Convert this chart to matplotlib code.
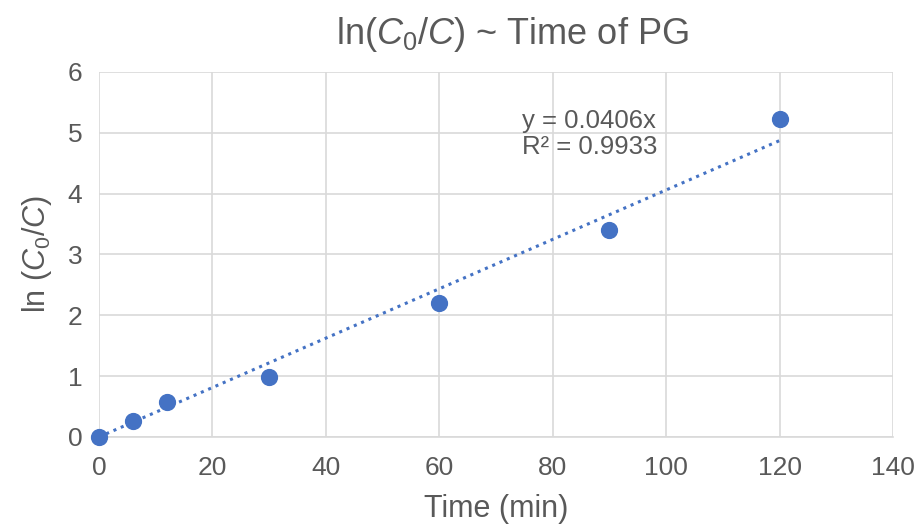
import numpy as np
import matplotlib
matplotlib.use("Agg")
import matplotlib.pyplot as plt

plt.rcParams['font.family'] = ['Liberation Sans Narrow', 'Liberation Sans', 'DejaVu Sans']
plt.rcParams['mathtext.fontset'] = 'custom'
plt.rcParams['mathtext.rm'] = 'Liberation Sans'
plt.rcParams['mathtext.it'] = 'Liberation Sans:italic'

# data
time_min = [0, 6, 12, 30, 60, 90, 120]
ln_c0_c = [0.0, 0.27, 0.57, 0.99, 2.2, 3.4, 5.22]
slope = 0.0406
r2 = 0.9933
x_ticks = [0, 20, 40, 60, 80, 100, 120, 140]
y_ticks = [0, 1, 2, 3, 4, 5, 6]

blue = '#4472C4'
grey = '#595959'

fig = plt.figure(figsize=(9.16, 5.29), dpi=100)
ax = fig.add_axes([0.108, 0.174, 0.867, 0.690])

# trendline through origin
fit_x = np.array([0, 120])
ax.plot(fit_x, slope * fit_x, color=blue, linestyle=(0, (1, 1.6)), linewidth=2.2, zorder=2)
ax.scatter(time_min, ln_c0_c, s=130, color=blue, zorder=3, clip_on=False)

ax.set_xlim(0, 140)
ax.set_ylim(0, 6)
ax.set_xticks(x_ticks)
ax.set_yticks(y_ticks)
ax.grid(True, color='#D9D9D9', linewidth=1.2)
ax.set_axisbelow(True)
for s in ['top', 'right', 'left']:
    ax.spines[s].set_visible(False)
ax.spines['bottom'].set_color('#D9D9D9')
ax.spines['bottom'].set_linewidth(1.2)
ax.tick_params(length=0, labelsize=19, colors=grey)
ax.tick_params(axis='x', pad=14)
ax.tick_params(axis='y', pad=12)

ax.set_xlabel('Time (min)', fontsize=22, color=grey, labelpad=10)
ax.set_ylabel(r'ln ($C_0$/$C$)', fontsize=22, color=grey, labelpad=10)
ax.set_title(r'ln($C_0$/$C$) ~ Time of PG', fontsize=26, color=grey, pad=20, x=0.52)

ax.text(74.6, 4.98, 'y = 0.0406x\nR² = 0.9933', fontsize=18.5, color=grey,
        va='center', ha='left', linespacing=1.1)

fig.savefig('out.png', dpi=100)
